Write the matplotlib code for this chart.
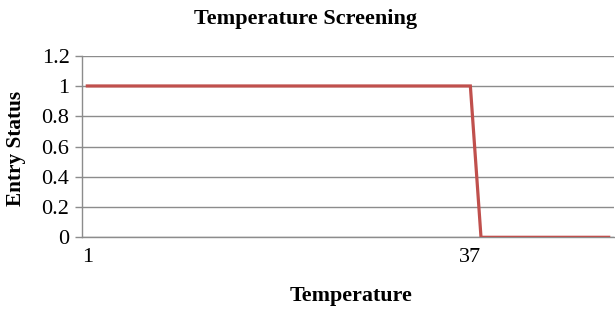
import matplotlib
matplotlib.use("Agg")
import matplotlib.pyplot as plt

# categories 1..50, entry allowed (1) up to 37, refused (0) after
temps = list(range(1, 51))
entry_status = [1] * 37 + [0] * 13
xtick_labels = ["1", "37"]
ytick_values = [0, 0.2, 0.4, 0.6, 0.8, 1, 1.2]
ytick_labels = ["0", "0.2", "0.4", "0.6", "0.8", "1", "1.2"]

plt.rcParams['font.family'] = ['Liberation Serif', 'DejaVu Serif']

fig = plt.figure(figsize=(6.15, 3.10), dpi=100)
ax = fig.add_axes([82 / 615, 1 - 237.3 / 310, 532 / 615, (237.3 - 55.7) / 310])

ax.plot(temps, entry_status, color='#C0504D', linewidth=2.3, solid_joinstyle='miter', zorder=3)

ax.set_xlim(0.5, 50.5)
ax.set_ylim(0, 1.2)
ax.set_yticks(ytick_values)
ax.set_yticklabels(ytick_labels, fontsize=16)
ax.set_xticks([1, 37])
ax.set_xticklabels(xtick_labels, fontsize=16)
ax.tick_params(axis='x', length=0, pad=8)
ax.tick_params(axis='y', length=5, width=1, color='#8c8c8c', pad=4)

ax.grid(axis='y', color='#8c8c8c', linewidth=1)
ax.set_axisbelow(True)
for side in ['top', 'right']:
    ax.spines[side].set_visible(False)
for side in ['left', 'bottom']:
    ax.spines[side].set_color('#8c8c8c')
    ax.spines[side].set_linewidth(1)

fig.text(306 / 615, 1 - 19 / 310, 'Temperature Screening', ha='center', va='center',
         fontsize=16, fontweight='bold')
fig.text(351 / 615, 1 - 296 / 310, 'Temperature', ha='center', va='center',
         fontsize=15.8, fontweight='bold')
fig.text(16 / 615, 1 - 148 / 310, 'Entry Status', ha='center', va='center',
         rotation=90, fontsize=15.3, fontweight='bold')

fig.savefig('out.png', dpi=100)
